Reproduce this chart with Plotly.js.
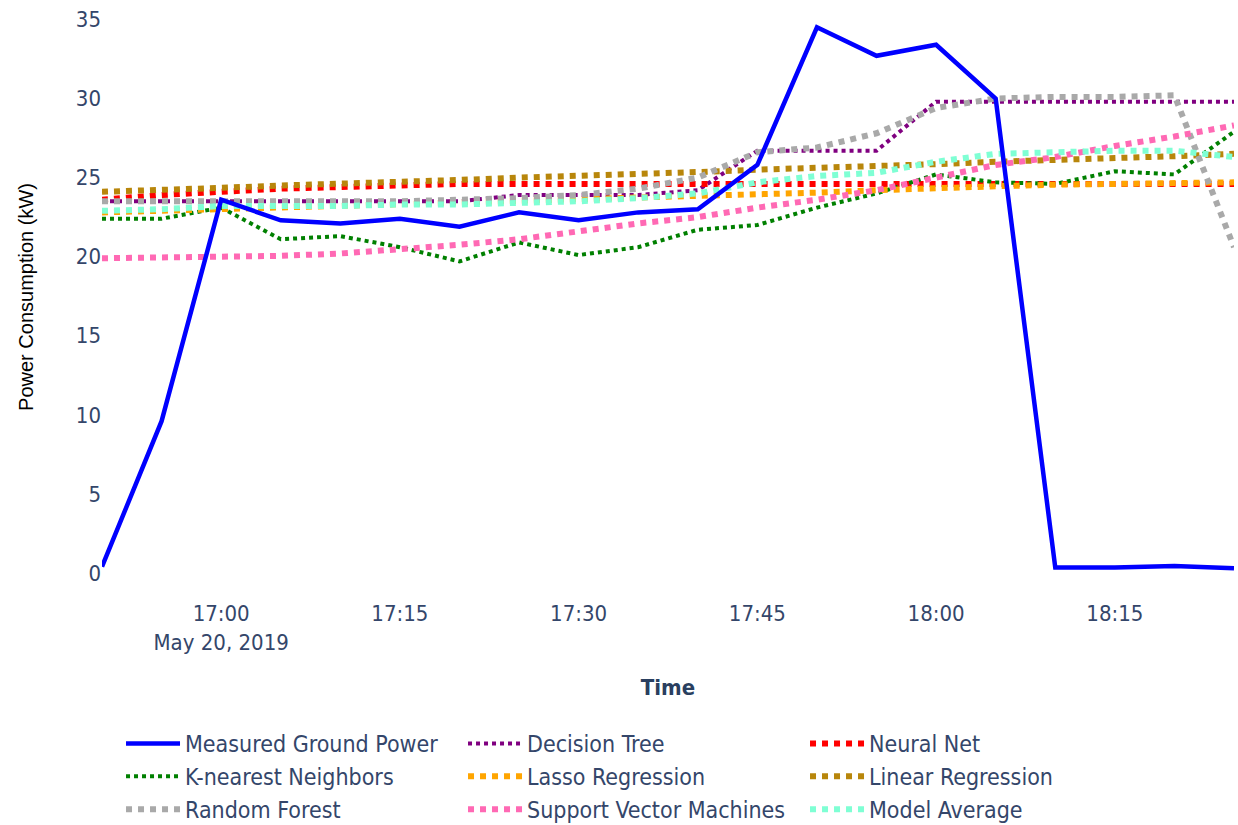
<!DOCTYPE html>
<html>
<head>
<meta charset="utf-8">
<script src="https://cdn.plot.ly/plotly-3.0.1.min.js"></script>
<style>html,body{margin:0;padding:0;background:#fff;overflow:hidden;}#chart{width:1238px;height:835px;}</style>
</head>
<body>
<div id="chart"></div>
<script>
const times = ['2019-05-20 16:50','2019-05-20 16:55','2019-05-20 17:00','2019-05-20 17:05','2019-05-20 17:10',
  '2019-05-20 17:15','2019-05-20 17:20','2019-05-20 17:25','2019-05-20 17:30','2019-05-20 17:35',
  '2019-05-20 17:40','2019-05-20 17:45','2019-05-20 17:50','2019-05-20 17:55','2019-05-20 18:00',
  '2019-05-20 18:05','2019-05-20 18:10','2019-05-20 18:15','2019-05-20 18:20','2019-05-20 18:25'];
const measured = [0.4, 9.6, 23.6, 22.3, 22.1, 22.4, 21.9, 22.8, 22.3, 22.8, 23.0, 25.8, 34.5, 32.7, 33.4, 30.0, 0.35, 0.35, 0.45, 0.3];
const decisionTree = [23.5, 23.5, 23.5, 23.5, 23.5, 23.5, 23.5, 23.9, 23.9, 23.9, 24.2, 26.7, 26.7, 26.7, 29.8, 29.8, 29.8, 29.8, 29.8, 29.8];
const neuralNet = [23.6, 23.9, 24.1, 24.3, 24.4, 24.5, 24.6, 24.6, 24.6, 24.6, 24.6, 24.6, 24.6, 24.6, 24.6, 24.6, 24.6, 24.6, 24.6, 24.6];
const knn = [22.4, 22.4, 23.1, 21.1, 21.3, 20.6, 19.7, 20.9, 20.1, 20.6, 21.7, 22.0, 23.1, 24.0, 25.2, 24.7, 24.6, 25.4, 25.2, 27.9];
const lasso = [22.8, 22.9, 23.0, 23.1, 23.2, 23.3, 23.4, 23.5, 23.6, 23.7, 23.8, 23.95, 24.05, 24.2, 24.35, 24.45, 24.55, 24.6, 24.65, 24.7];
const linearReg = [24.1, 24.2, 24.35, 24.5, 24.6, 24.75, 24.85, 25.0, 25.1, 25.25, 25.35, 25.5, 25.6, 25.75, 25.85, 26.0, 26.1, 26.25, 26.35, 26.5];
const randomForest = [23.5, 23.5, 23.5, 23.5, 23.5, 23.5, 23.6, 23.7, 23.9, 24.3, 25.0, 26.6, 26.9, 27.8, 29.4, 30.0, 30.1, 30.1, 30.2, 20.6];
const svm = [19.9, 19.95, 20.0, 20.05, 20.2, 20.45, 20.75, 21.1, 21.6, 22.1, 22.5, 23.1, 23.6, 24.2, 25.0, 25.8, 26.3, 27.0, 27.6, 28.3];
const modelAvg = [22.9, 23.0, 23.2, 23.2, 23.2, 23.3, 23.3, 23.4, 23.5, 23.7, 24.0, 24.7, 25.1, 25.3, 26.0, 26.5, 26.6, 26.7, 26.7, 26.3];

const seriesNames = ['Measured Ground Power','Decision Tree','Neural Net','K-nearest Neighbors','Lasso Regression',
  'Linear Regression','Random Forest','Support Vector Machines','Model Average'];

function tr(name, y, color, width, dash, rank) {
  return {x: times, y: y, name: name, type: 'scatter', mode: 'lines',
    line: {color: color, width: width, dash: dash}, legendrank: rank};
}

const data = [
  tr(seriesNames[1], decisionTree, '#800080', 4, 'dot', 2),
  tr(seriesNames[2], neuralNet, '#ff0000', 6, 'dot', 3),
  tr(seriesNames[3], knn, '#008000', 4, 'dot', 4),
  tr(seriesNames[4], lasso, '#ffa500', 6, 'dot', 5),
  tr(seriesNames[5], linearReg, '#b8860b', 6, 'dot', 6),
  tr(seriesNames[6], randomForest, '#a9a9a9', 6, 'dot', 7),
  tr(seriesNames[7], svm, '#ff69b4', 6, 'dot', 8),
  tr(seriesNames[8], modelAvg, '#7fffd4', 6, 'dot', 9),
  tr(seriesNames[0], measured, '#0000ff', 4.5, 'solid', 1)
];

const fontFam = '"DejaVu Sans Condensed", "DejaVu Sans", sans-serif';
const tickCol = '#34466a';
const layout = {
  width: 1238, height: 835,
  margin: {l: 102, r: 4, t: 2, b: 243},
  paper_bgcolor: '#ffffff', plot_bgcolor: '#ffffff',
  font: {family: fontFam, size: 22, color: '#2a3f5f'},
  showlegend: true,
  xaxis: {
    type: 'date', showgrid: false, zeroline: false, showline: false,
    ticks: 'outside', ticklen: 2, tickcolor: 'rgba(0,0,0,0)',
    tick0: '2019-05-20 17:00', dtick: 900000,
    tickfont: {family: fontFam, size: 22, color: tickCol},
    title: {text: '<b>Time</b>', font: {family: fontFam, size: 22, color: '#2a3f5f'}, standoff: 25},
    automargin: false
  },
  yaxis: {
    range: [-1.2, 36.1], dtick: 5, showgrid: false, zeroline: false, showline: false, ticks: '',
    tickfont: {family: fontFam, size: 22, color: tickCol},
    title: {text: 'Power Consumption (kW)', font: {family: '"Liberation Sans", Arial, sans-serif', size: 20, color: '#000000'}, standoff: 36},
    automargin: false
  },
  legend: {
    orientation: 'h', x: 0.0168, xanchor: 'left', y: -0.2203, yanchor: 'top',
    font: {family: fontFam, size: 23, color: tickCol},
    itemwidth: 54, entrywidth: 273, entrywidthmode: 'pixels', traceorder: 'normal'
  }
};

Plotly.newPlot('chart', data, layout, {displayModeBar: false, staticPlot: true});
</script>
</body>
</html>
